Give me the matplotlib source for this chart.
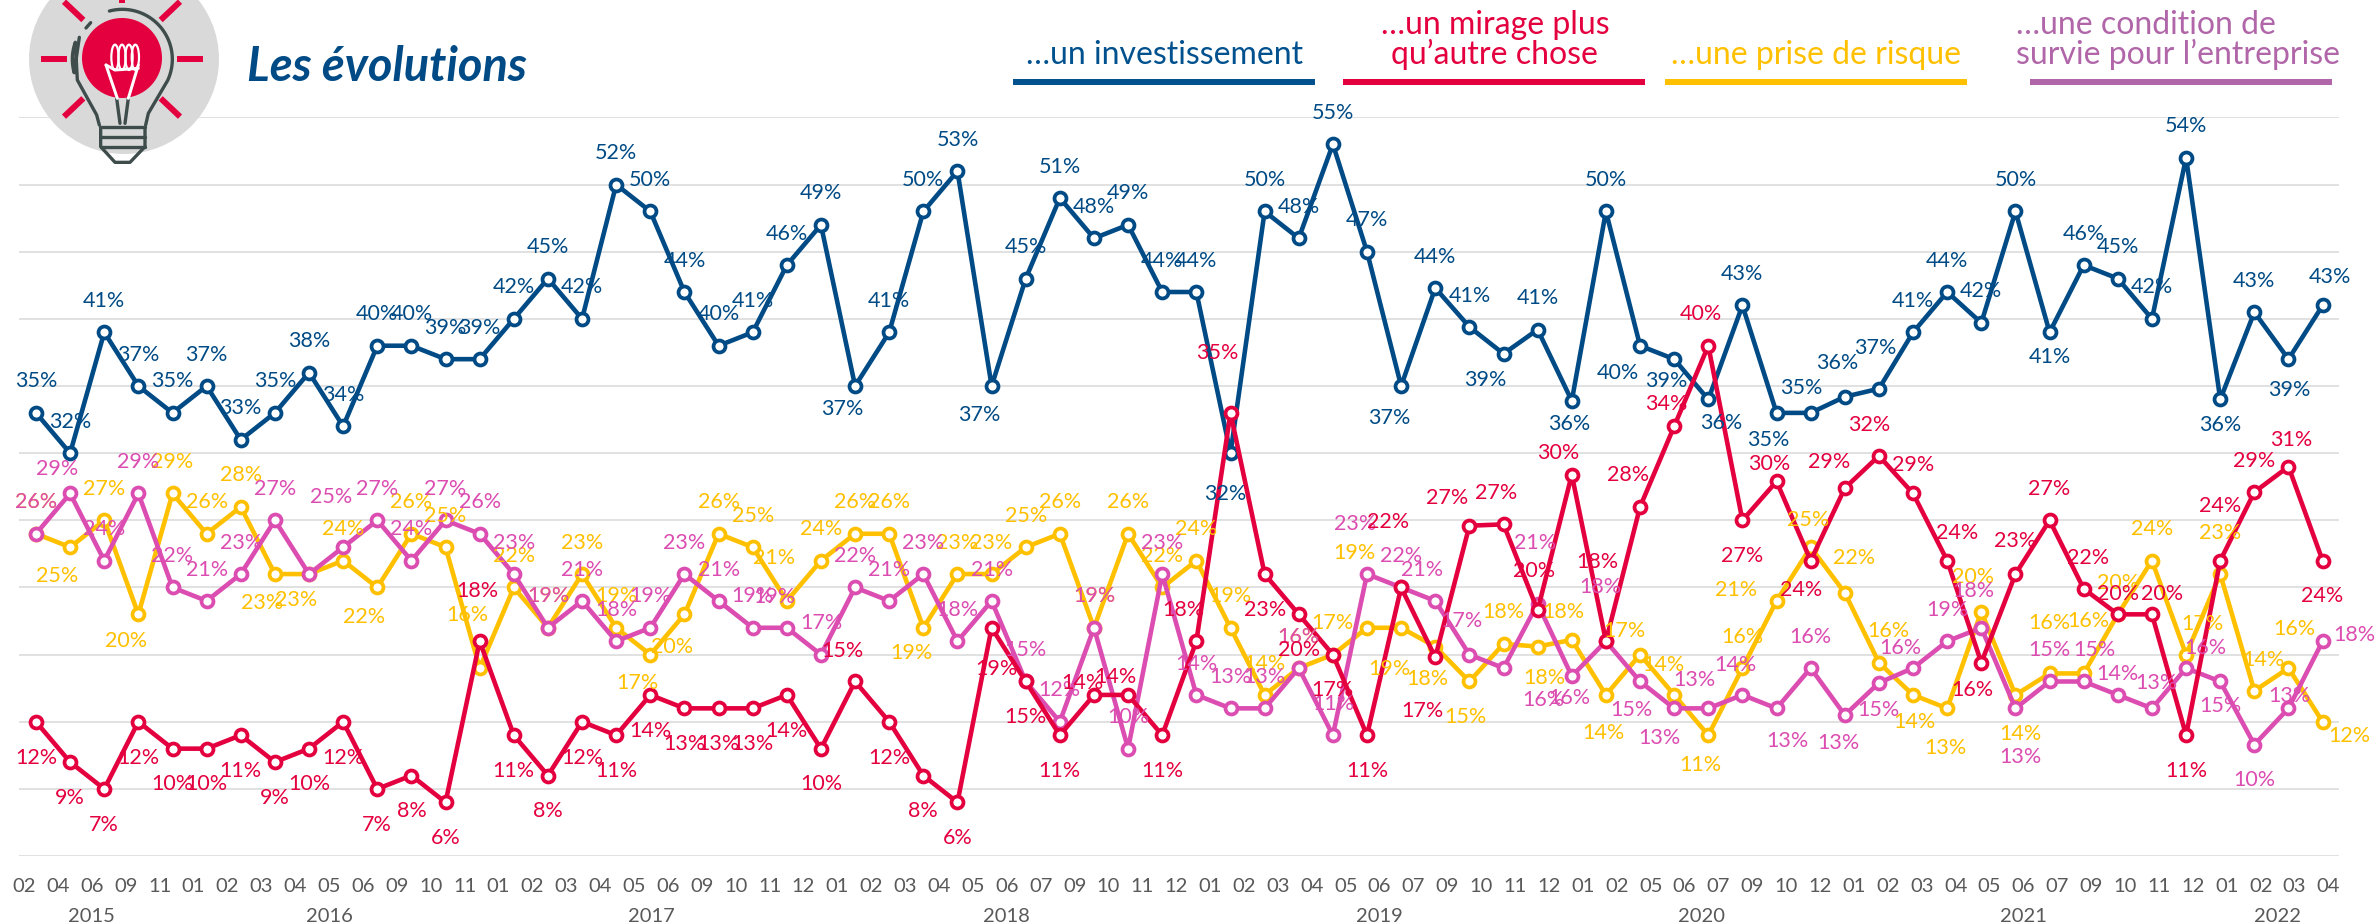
import numpy as np
import matplotlib
matplotlib.use('Agg')
import matplotlib.pyplot as plt
from matplotlib.patches import Circle, Ellipse

plt.rcParams['font.family'] = ['Lato', 'DejaVu Sans']

# tick labels, one list per year
years = ['2015', '2016', '2017', '2018', '2019', '2020', '2021', '2022']
months = [
    ['02', '04', '06', '09', '11'],
    ['01', '02', '03', '04', '05', '06', '09', '10', '11'],
    ['01', '02', '03', '04', '05', '06', '09', '10', '11', '12'],
    ['01', '02', '03', '04', '05', '06', '07', '09', '10', '11', '12'],
    ['01', '02', '03', '04', '05', '06', '07', '09', '10', '11', '12'],
    ['01', '02', '05', '06', '07', '09', '10', '12'],
    ['01', '02', '03', '04', '05', '06', '07', '09', '10', '11', '12'],
    ['01', '02', '03', '04'],
]

# series
invest = [35, 32, 41, 37, 35, 37, 33, 35, 38, 34, 40, 40, 39, 39, 42, 45, 42, 52, 50, 44, 40, 41, 46,
          49, 37, 41, 50, 53, 37, 45, 51, 48, 49, 44, 44, 32, 50, 48, 55, 47, 37, 44.3, 41.4, 39.4, 41.2, 35.9,
          50, 40, 39, 36, 43, 35, 35, 36.2, 36.8, 41, 44, 41.7, 50, 41, 46, 45, 42, 54, 36, 42.5, 39, 43]
mirage = [12, 9, 7, 12, 10, 10, 11, 9, 10, 12, 7, 8, 6, 18, 11, 8, 12, 11, 14, 13, 13, 13, 14,
          10, 15, 12, 8, 6, 19, 15, 11, 14, 14, 11, 18, 35, 23, 20, 17, 11, 22, 16.8, 26.6, 26.7, 20.3, 30.4,
          18, 28, 34, 40, 27, 29.9, 24, 29.4, 31.8, 29, 24, 16.4, 23, 27, 21.9, 20, 20, 11, 24, 29.1, 31, 24]
risque = [26, 25, 27, 20, 29, 26, 28, 23, 23, 24, 22, 26, 25, 16, 22, 19, 23, 19, 17, 20, 26, 25, 21,
          24, 26, 26, 19, 23, 23, 25, 26, 19, 26, 22, 24, 19, 14, 16, 17, 19, 19, 17.6, 15, 17.8, 17.6, 18.1,
          14, 17, 14, 11, 16, 21, 25, 21.6, 16.4, 14, 13, 20.2, 14, 15.6, 15.6, 20, 24, 17, 23, 14.3, 16, 12]
survie = [26, 29, 24, 29, 22, 21, 23, 27, 23, 25, 27, 24, 27, 26, 23, 19, 21, 18, 19, 23, 21, 19, 19,
          17, 22, 21, 23, 18, 21, 15, 12, 19, 10, 23, 14, 13, 13, 16, 11, 23, 22, 21, 17, 16, 20.8, 15.4,
          18, 15, 13, 13, 14, 13, 16, 12.5, 14.9, 16, 18, 19, 13, 15, 15, 14, 13, 16, 15, 10.3, 13, 18]

# printed labels (not always the rounded point)
invest_lab = [35, 32, 41, 37, 35, 37, 33, 35, 38, 34, 40, 40, 39, 39, 42, 45, 42, 52, 50, 44, 40, 41, 46,
              49, 37, 41, 50, 53, 37, 45, 51, 48, 49, 44, 44, 32, 50, 48, 55, 47, 37, 44, 41, 39, 41, 36,
              50, 40, 39, 36, 43, 35, 35, 36, 37, 41, 44, 42, 50, 41, 46, 45, 42, 54, 36, 43, 39, 43]
mirage_lab = [12, 9, 7, 12, 10, 10, 11, 9, 10, 12, 7, 8, 6, 18, 11, 8, 12, 11, 14, 13, 13, 13, 14,
              10, 15, 12, 8, 6, 19, 15, 11, 14, 14, 11, 18, 35, 23, 20, 17, 11, 22, 17, 27, 27, 20, 30,
              18, 28, 34, 40, 27, 30, 24, 29, 32, 29, 24, 16, 23, 27, 22, 20, 20, 11, 24, 29, 31, 24]
risque_lab = [26, 25, 27, 20, 29, 26, 28, 23, 23, 24, 22, 26, 25, 16, 22, 19, 23, 19, 17, 20, 26, 25, 21,
              24, 26, 26, 19, 23, 23, 25, 26, 19, 26, 22, 24, 19, 14, 16, 17, 19, 19, 18, 15, 18, 18, 18,
              14, 17, 14, 11, 16, 21, 25, 22, 16, 14, 13, 20, 14, 16, 16, 20, 24, 17, 23, 14, 16, 12]
survie_lab = [26, 29, 24, 29, 22, 21, 23, 27, None, 25, 27, 24, 27, 26, 23, 19, 21, 18, 19, 23, 21, 19, 19,
              17, 22, 21, 23, 18, 21, 15, 12, 19, 10, 23, 14, 13, 13, 16, 11, 23, 22, 21, 17, 16, 21, 16,
              18, 15, 13, 13, 14, 13, 16, 13, 15, 16, 19, 18, 13, 15, 15, 14, 13, 16, 15, 10, 13, 18]

# label offsets where they leave the default spot, read off the zoom crops
# (x units are 1/1.96 px, y units 1/1.697 px)
invest_off = {24: (-25, 37), 28: (-24, 48), 35: (-11, 68), 40: (-24, 53), 43: (-35, 42), 45: (-5, 37), 47: (-44, 44),
              48: (-16, 35), 49: (25, 39), 51: (-17, 45), 52: (-18, -44), 53: (-15, -59), 54: (-8, -70), 59: (0, 41),
              64: (0, 41), 66: (1, 50), 67: (15, -50)}
mirage_off = {13: (-4, -87), 24: (-24, -53), 28: (10, 68), 31: (-23, -22), 32: (-24, -32), 34: (-26, -54), 35: (-25, -103),
              40: (-25, -112), 41: (-25, 90), 42: (-43, -49), 43: (-14, -55), 44: (-7, -69), 45: (-26, -38), 46: (-16, -136),
              47: (-24, -56), 48: (-16, -40), 49: (-15, -55), 51: (-14, -31), 52: (-19, 49), 53: (-31, -46), 54: (-20, -54),
              55: (1, -50), 56: (20, -49), 57: (-17, 45), 58: (0, -57), 59: (-1, -55), 60: (9, -54), 61: (0, -36),
              62: (20, -36), 64: (0, -95), 65: (-1, -54), 66: (6, -47)}
risque_off = {1: (-25, 47), 3: (-25, 43), 7: (-25, 47), 8: (-25, 43), 10: (-25, 48), 13: (-25, -91), 18: (-25, 46),
              19: (-25, 53), 22: (-25, -75), 26: (-24, 41), 39: (-24, -129), 40: (-23, 69), 41: (-16, 53), 42: (-8, 58),
              44: (14, 52), 45: (-16, -49), 46: (-5, 63), 47: (-31, -41), 48: (-21, -52), 49: (-15, 49), 51: (-80, -20),
              52: (-6, -47), 53: (19, -60), 54: (18, -55), 55: (2, 45), 56: (-4, 65), 57: (-17, -60), 58: (10, 65),
              59: (-1, -87), 60: (10, -91), 63: (32, -54), 64: (0, -72), 65: (17, -54), 66: (12, -68), 67: (53, 23)}
survie_off = {1: (-25, -43), 9: (-24, -87), 22: (-25, -54), 39: (-23, -87), 41: (-25, -55), 42: (-16, -58), 43: (78, 52),
              44: (-6, -104), 45: (-5, 36), 46: (-11, -94), 47: (-16, 46), 48: (-28, 49), 49: (-28, -50), 50: (-13, -53),
              51: (21, 54), 53: (-12, 45), 54: (-1, 44), 55: (-24, -35), 57: (-15, -64), 58: (10, 80), 60: (21, -55),
              61: (-1, -38), 62: (9, -45), 63: (37, -35), 64: (1, 40), 65: (0, 59), 66: (1, -22), 67: (63, -13)}

BLUE = '#004B85'
RED = '#E4003F'
YELLOW = '#FFC000'
PINK = '#DC4DB1'
PURPLE = '#B066A8'
LEGEND_BLUE = '#00518E'

W, H = 2376, 924
PT = 72 / 100  # one pixel in points at dpi 100

fig = plt.figure(figsize=(W / 100, H / 100), dpi=100)
ax = fig.add_axes([19 / W, 1 - 856.1 / H, (2339 - 19) / W, (856.1 - 117.4) / H])
ax.set_xlim(-0.498, 67.48)
ax.set_ylim(2, 57)
for s in ax.spines.values():
    s.set_visible(False)

ax.set_yticks(np.arange(2, 58, 5))
ax.tick_params(axis='y', length=0, labelleft=False)
ax.grid(axis='y', color='#D9D9D9', lw=1.1)
ax.set_axisbelow(True)

# month ticks: 69 labels spread a bit differently from the 68 points
month_flat = [m for group in months for m in group]
tick_x = np.linspace(-0.35, 67.17, len(month_flat))
ax.set_xticks(tick_x)
ax.set_xticklabels(month_flat, fontsize=14.5, color='#595959')
ax.tick_params(axis='x', length=0, pad=16)

start = 0
for year, group in zip(years, months):
    mid = tick_x[start:start + len(group)].mean()
    ax.annotate(year, xy=(mid, 0), xycoords=ax.get_xaxis_transform(), xytext=(0, -60 * PT),
                textcoords='offset points', ha='center', va='center', fontsize=14.5, color='#595959')
    start += len(group)

x = np.arange(len(invest))
for vals, col, z in [(invest, BLUE, 3), (risque, YELLOW, 4), (survie, PINK, 5), (mirage, RED, 6)]:
    ax.plot(x, vals, color=col, lw=3.3, marker='o', ms=8.6, mew=2.7, mfc='white', mec=col,
            zorder=z, clip_on=False, solid_joinstyle='round')


def put_labels(labs, vals, col, offs, default, z):
    for i, (lab, v) in enumerate(zip(labs, vals)):
        if lab is None:
            continue
        dx, dy = offs.get(i, default)
        ax.annotate(f'{lab}%', xy=(i, v), xytext=(dx / 1.96 * PT, (-dy / 1.697 - 1) * PT), textcoords='offset points',
                    ha='center', va='center', fontsize=15.5, color=col, zorder=z)


put_labels(risque_lab, risque, YELLOW, risque_off, (0, -55), 7)
put_labels(survie_lab, survie, PINK, survie_off, (0, -55), 8)
put_labels(mirage_lab, mirage, RED, mirage_off, (0, 59), 9)
put_labels(invest_lab, invest, BLUE, invest_off, (0, -55), 10)

# overlay in pixel coordinates for the header
top = fig.add_axes([0, 0, 1, 1], zorder=20)
top.set_xlim(0, W)
top.set_ylim(H, 0)
top.axis('off')
top.patch.set_alpha(0)

top.text(247, 67, 'Les évolutions', fontsize=33.8, fontweight='bold', fontstyle='italic', color=BLUE,
         ha='left', va='center')

legend_size = 23
top.text(1165, 54.5, '…un investissement', fontsize=legend_size, color=LEGEND_BLUE, ha='center', va='center')
top.text(1495, 24.5, '…un mirage plus', fontsize=legend_size, color=RED, ha='center', va='center')
top.text(1494, 54.5, 'qu’autre chose', fontsize=legend_size, color=RED, ha='center', va='center')
top.text(1816, 54.5, '…une prise de risque', fontsize=legend_size, color=YELLOW, ha='center', va='center')
top.text(2016, 24.5, '…une condition de', fontsize=legend_size, color=PURPLE, ha='left', va='center')
top.text(2016, 54.5, 'survie pour l’entreprise', fontsize=legend_size, color=PURPLE, ha='left', va='center')
for x0, x1, col in [(1013, 1315, LEGEND_BLUE), (1343, 1645, RED), (1665, 1967, YELLOW), (2030, 2332, PURPLE)]:
    top.plot([x0, x1], [82, 82], color=col, lw=6 * PT, solid_capstyle='butt')

# light bulb icon (drawn in 3x crop coordinates)
DARK = '#3F4C4C'


def bx(pts):
    return [p[0] / 3 for p in pts], [p[1] / 3 for p in pts]


def seg(pts, col=DARK, w=10):
    xs, ys = bx(pts)
    top.plot(xs, ys, color=col, lw=w / 3 * PT, solid_capstyle='round', solid_joinstyle='round')


top.add_patch(Circle((124, 59), 95, color='#D9D9D9', lw=0, zorder=1))
top.add_patch(Circle((122, 58), 40, color=RED, lw=0, zorder=1.5))
for pts in [[(122, 178), (200, 178)], [(532, 178), (610, 178)], [(192, 5), (250, 60)], [(540, 5), (482, 60)],
            [(192, 350), (250, 295)], [(540, 350), (482, 295)], [(367, 0), (367, 10)]]:
    xs, ys = bx(pts)
    top.plot(xs, ys, color=RED, lw=6 * PT, solid_capstyle='butt')

t = np.radians(np.linspace(-105, 25, 40))
arc = [(367 + 150 * np.cos(a), 178 + 150 * np.sin(a)) for a in t]
seg(arc + [(445, 340), (437, 375)])
seg([(258, 84), (272, 68)])
t = np.radians(np.linspace(160, 200, 10))
seg([(298, 375), (290, 345), (232, 240)] + [(367 + 150 * np.cos(a), 178 + 150 * np.sin(a)) for a in t[::-1]][:-1]
    + [(238, 112)])
seg([(350, 295), (360, 370)])
seg([(385, 295), (375, 370)])
seg([(300, 380), (435, 380)])
seg([(302, 382), (302, 440), (345, 487), (390, 487), (435, 440), (435, 382)])
seg([(302, 410), (435, 410)])
seg([(302, 440), (435, 440)])
seg([(318, 195), (352, 295)], col='white', w=9)
seg([(415, 195), (385, 295)], col='white', w=9)
seg([(318, 195), (345, 210), (415, 205)], col='white', w=9)
for cx in [345, 366, 387, 406]:
    top.add_patch(Ellipse((cx / 3, 172 / 3), 22 / 3, 76 / 3, fc='none', ec='white', lw=2.2 * PT, zorder=3))

top.set_xlim(0, W)
top.set_ylim(H, 0)

fig.savefig('out.png', dpi=100, facecolor='white')
